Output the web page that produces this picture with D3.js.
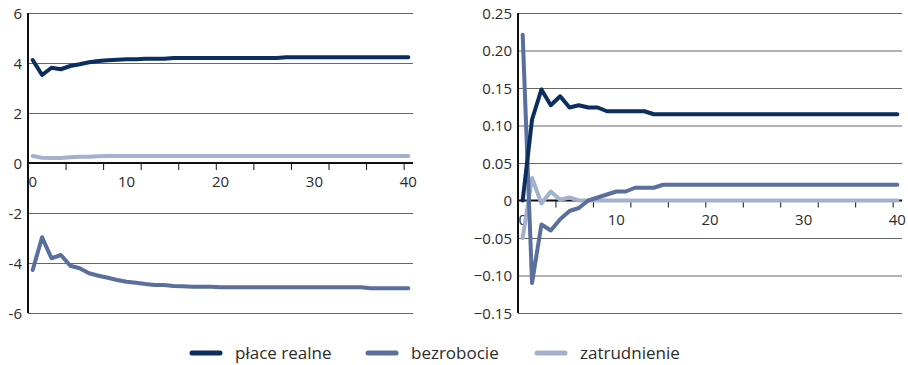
<!DOCTYPE html>
<html>
<head>
<meta charset="utf-8">
<script src="https://cdn.jsdelivr.net/npm/d3@7"></script>
<style>
  body { margin: 0; background: #fff; }
  text { font-family: "Open Sans", sans-serif; fill: #2b2b2b; }
</style>
</head>
<body>
<svg id="chart" width="908" height="365"></svg>
<script>
// horizons 0..40
const periods = d3.range(0, 41);
const seriesNames = ["płace realne", "bezrobocie", "zatrudnienie"];
const colors = ["#0b2d5f", "#5a6f9d", "#a3b1cf"];

// left panel
const leftPlace = [4.12, 3.52, 3.81, 3.75, 3.88, 3.95, 4.03, 4.08, 4.11, 4.13, 4.15, 4.15, 4.17, 4.17, 4.17, 4.2,
  4.2, 4.2, 4.2, 4.2, 4.2, 4.2, 4.2, 4.2, 4.2, 4.2, 4.2, 4.23, 4.23, 4.23, 4.23, 4.23, 4.23, 4.23, 4.23, 4.23,
  4.23, 4.23, 4.23, 4.23, 4.23];
const leftBezrobocie = [-4.28, -2.97, -3.81, -3.68, -4.11, -4.21, -4.41, -4.51, -4.59, -4.68, -4.75, -4.79, -4.84,
  -4.88, -4.88, -4.92, -4.93, -4.95, -4.95, -4.95, -4.97, -4.97, -4.97, -4.97, -4.97, -4.97, -4.97, -4.97, -4.97,
  -4.97, -4.97, -4.97, -4.97, -4.97, -4.97, -4.97, -5.01, -5.01, -5.01, -5.01, -5.01];
const leftZatrudnienie = [0.28, 0.21, 0.2, 0.2, 0.23, 0.25, 0.25, 0.27, 0.28, 0.28, 0.28, 0.28, 0.28, 0.28, 0.28,
  0.28, 0.28, 0.28, 0.28, 0.28, 0.28, 0.28, 0.28, 0.28, 0.28, 0.28, 0.28, 0.28, 0.28, 0.28, 0.28, 0.28, 0.28, 0.28,
  0.28, 0.28, 0.28, 0.28, 0.28, 0.28, 0.28];
const leftTicks = [-6, -4, -2, 0, 2, 4, 6];

// right panel
const rightPlace = [0, 0.108, 0.148, 0.127, 0.139, 0.124, 0.127, 0.124, 0.124, 0.119, 0.119, 0.119, 0.119, 0.119,
  0.115, 0.115, 0.115, 0.115, 0.115, 0.115, 0.115, 0.115, 0.115, 0.115, 0.115, 0.115, 0.115, 0.115, 0.115, 0.115,
  0.115, 0.115, 0.115, 0.115, 0.115, 0.115, 0.115, 0.115, 0.115, 0.115, 0.115];
const rightBezrobocie = [0.221, -0.11, -0.032, -0.04, -0.025, -0.014, -0.01, 0, 0.004, 0.008, 0.012, 0.012, 0.017,
  0.017, 0.017, 0.021, 0.021, 0.021, 0.021, 0.021, 0.021, 0.021, 0.021, 0.021, 0.021, 0.021, 0.021, 0.021, 0.021,
  0.021, 0.021, 0.021, 0.021, 0.021, 0.021, 0.021, 0.021, 0.021, 0.021, 0.021, 0.021];
const rightZatrudnienie = [-0.05, 0.03, -0.004, 0.012, 0.001, 0.004, 0, 0, 0, 0, 0, 0, 0, 0, 0, 0, 0, 0, 0, 0, 0,
  0, 0, 0, 0, 0, 0, 0, 0, 0, 0, 0, 0, 0, 0, 0, 0, 0, 0, 0, 0];
const rightTicks = [-0.15, -0.10, -0.05, 0, 0.05, 0.10, 0.15, 0.20, 0.25];

const svg = d3.select("#chart");

function panel(x0, x1, ticks, fmt, series) {
  const top = 13, bottom = 313;
  const x = d3.scaleBand().domain(periods).range([x0, x1]);
  const y = d3.scaleLinear().domain([ticks[0], ticks[ticks.length - 1]]).range([bottom, top]);
  const g = svg.append("g");

  // gridlines
  g.selectAll(".grid").data(ticks.filter(t => t !== 0)).enter().append("line")
    .attr("x1", x0).attr("x2", x1)
    .attr("y1", d => y(d) + 0.5).attr("y2", d => y(d) + 0.5)
    .attr("stroke", "#666").attr("stroke-width", 1);

  // y labels
  g.selectAll(".ylab").data(ticks).enter().append("text")
    .attr("x", x0 - 6).attr("y", d => y(d) + 5.5)
    .attr("text-anchor", "end").attr("font-size", 15)
    .text(fmt);

  // x axis at zero
  const y0 = y(0);
  g.append("line").attr("x1", x0).attr("x2", x1).attr("y1", y0).attr("y2", y0)
    .attr("stroke", "#111").attr("stroke-width", 2);
  const tickPos = periods.filter(p => p > 0 && p % 4 === 0);
  g.selectAll(".xtick").data(tickPos).enter().append("line")
    .attr("x1", d => x(d) + 0.5).attr("x2", d => x(d) + 0.5)
    .attr("y1", y0).attr("y2", y0 + 7)
    .attr("stroke", "#111").attr("stroke-width", 1);
  g.selectAll(".xlab").data(periods.filter(p => p % 10 === 0)).enter().append("text")
    .attr("x", d => x(d) + x.bandwidth() / 2).attr("y", y0 + 24)
    .attr("text-anchor", "middle").attr("font-size", 15)
    .text(d => d);

  // y axis line
  g.append("line").attr("x1", x0).attr("x2", x0).attr("y1", top).attr("y2", bottom)
    .attr("stroke", "#111").attr("stroke-width", 2);

  const line = d3.line()
    .x((d, i) => x(periods[i]) + x.bandwidth() / 2)
    .y(d => y(d));

  // draw light first so the dark lines sit on top
  [2, 1, 0].forEach(k => {
    g.append("path").datum(series[k])
      .attr("d", line)
      .attr("fill", "none")
      .attr("stroke", colors[k])
      .attr("stroke-width", 4)
      .attr("stroke-linejoin", "round")
      .attr("stroke-linecap", "round");
  });
}

panel(28, 413, leftTicks, d => d, [leftPlace, leftBezrobocie, leftZatrudnienie]);
panel(518, 902, rightTicks, d => d === 0 ? "0" : d3.format(".2f")(d), [rightPlace, rightBezrobocie, rightZatrudnienie]);

// legend
const legendX = [192, 368, 537];
const leg = svg.append("g");
seriesNames.forEach((name, i) => {
  leg.append("line")
    .attr("x1", legendX[i]).attr("x2", legendX[i] + 28)
    .attr("y1", 353).attr("y2", 353)
    .attr("stroke", colors[i]).attr("stroke-width", 5).attr("stroke-linecap", "round");
  leg.append("text")
    .attr("x", legendX[i] + 43).attr("y", 359)
    .attr("font-size", 17)
    .text(name);
});
</script>
</body>
</html>
